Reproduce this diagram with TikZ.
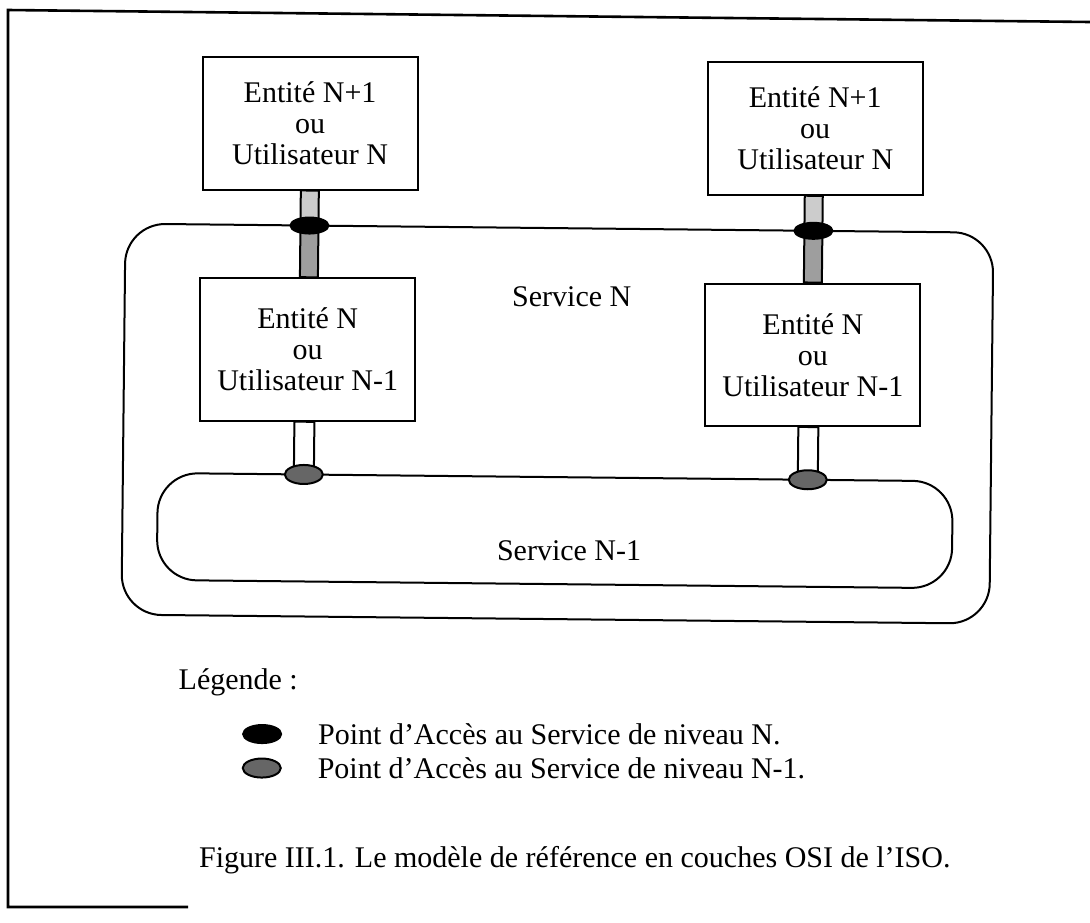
\documentclass[tikz,border=0pt]{standalone}
\usepackage{fontspec}
\setmainfont{Liberation Serif}
\usetikzlibrary{shapes.geometric}
\begin{document}
\begin{tikzpicture}[x=0.5pt,y=-0.5pt,
  font=\fontsize{15}{15.5}\selectfont,
  line width=1pt,
  entbox/.style={draw, align=center, inner sep=0pt, minimum width=107.5pt},
  service/.style={draw, rounded corners=20pt},
  sapN/.style={draw, ellipse, fill=black, minimum width=19pt, minimum height=8pt, inner sep=0pt},
  sapM/.style={draw, ellipse, fill=black!60, minimum width=19pt, minimum height=9.5pt, inner sep=0pt},
  pillarup/.style={draw, fill=black!20},
  pillardown/.style={draw, fill=black!38},
  pillarlow/.style={draw, fill=white},
  frameline/.style={line width=1.3pt},
  lbl/.style={inner sep=0pt}
]
\useasboundingbox (0,0) rectangle (1090,922);

% frame (scanned page, slightly tilted)
\coordinate (fbr) at (188,907);
\coordinate (fbl) at (8,907);
\coordinate (ftl) at (8,10);
\coordinate (ftr) at (1090,22);
\draw[frameline] (fbr) -- (fbl) -- (ftl) -- (ftr);

\begin{scope}[rotate around={-0.6:(545,461)}]
% services
\draw[service] (123,228) rectangle (991,619);
\draw[service] (158,477) rectangle (953,584);
\node[lbl] (svcN) at (570,296) {Service N};
\node[lbl] (svcM) at (570,550) {Service N-1};

% entity boxes
\node[entbox, minimum height=66.5pt] (tl) at (306.5,125.5)
  {Entité N+1\\ou\\Utilisateur N};
\node[entbox, minimum height=66.5pt] (tr) at (811.75,125.5)
  {Entité N+1\\ou\\Utilisateur N};
\node[entbox, minimum height=71.25pt] (bl) at (306.5,352)
  {Entité N\\ou\\Utilisateur N-1};
\node[entbox, minimum height=71.25pt] (br) at (811.75,352)
  {Entité N\\ou\\Utilisateur N-1};

% access point positions
\coordinate (pn1) at (307,228);
\coordinate (pn2) at (811,228);
\coordinate (pm1) at (304,477);
\coordinate (pm2) at (808,477);

% pillars
\draw[pillarup] ([xshift=-4.5pt]pn1 |- tl.south) rectangle ([xshift=4.5pt]pn1);
\draw[pillardown] ([xshift=-4.5pt]pn1) rectangle ([xshift=4.5pt]pn1 |- bl.north);
\draw[pillarup] ([xshift=-4.5pt]pn2 |- tr.south) rectangle ([xshift=4.5pt]pn2);
\draw[pillardown] ([xshift=-4.5pt]pn2) rectangle ([xshift=4.5pt]pn2 |- br.north);
\draw[pillarlow] ([xshift=-5pt]pm1 |- bl.south) rectangle ([xshift=5pt]pm1);
\draw[pillarlow] ([xshift=-5pt]pm2 |- br.south) rectangle ([xshift=5pt]pm2);

% access point ellipses
\node[sapN] (san1) at (pn1) {};
\node[sapN] (san2) at (pn2) {};
\node[sapM] (sam1) at (pm1) {};
\node[sapM] (sam2) at (pm2) {};

% legend
\node[lbl, anchor=west] (leg) at (180,686) {Légende :};
\node[sapN, minimum height=9pt] (legN) at (265,737) {};
\node[sapM] (legM) at (265,771) {};
\node[lbl, anchor=west] (legNt) at (320,737) {Point d’Accès au Service de niveau N.};
\node[lbl, anchor=west] (legMt) at (320,771) {Point d’Accès au Service de niveau N-1.};

% caption
\node[lbl] (cap) at (579,860) {Figure III.1. Le modèle de référence en couches OSI de l’ISO.};
\end{scope}
\end{tikzpicture}
\end{document}
